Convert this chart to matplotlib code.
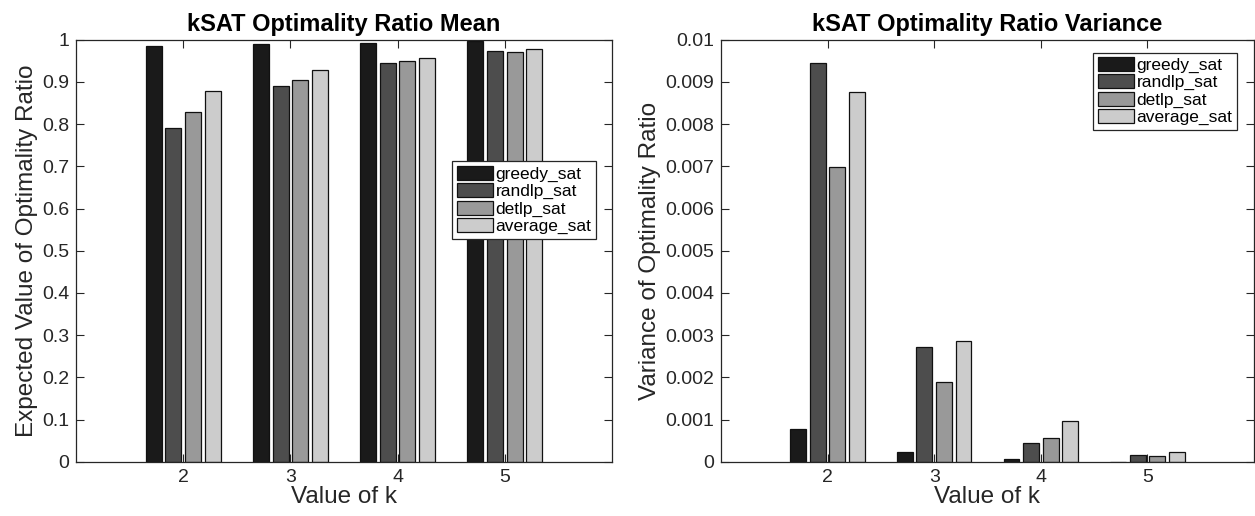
import matplotlib
matplotlib.use("Agg")
import matplotlib.pyplot as plt
import numpy as np

plt.rcParams['font.family'] = ['Liberation Sans', 'DejaVu Sans']

k_values = [2, 3, 4, 5]
series_names = ["greedy_sat", "randlp_sat", "detlp_sat", "average_sat"]
colors = ["#1a1a1a", "#4d4d4d", "#999999", "#cccccc"]

mean_greedy = [0.985, 0.989, 0.992, 0.997]
mean_randlp = [0.790, 0.890, 0.944, 0.972]
mean_detlp = [0.829, 0.904, 0.948, 0.970]
mean_average = [0.879, 0.929, 0.956, 0.977]

var_greedy = [0.00077, 0.00023, 0.00007, 0.00001]
var_randlp = [0.00945, 0.00271, 0.00046, 0.00016]
var_detlp = [0.00699, 0.00190, 0.00056, 0.00014]
var_average = [0.00875, 0.00286, 0.00098, 0.00024]

mean_yticks = [0, 0.1, 0.2, 0.3, 0.4, 0.5, 0.6, 0.7, 0.8, 0.9, 1]
mean_ylabels = ["0", "0.1", "0.2", "0.3", "0.4", "0.5", "0.6", "0.7", "0.8", "0.9", "1"]
var_yticks = [0, 0.001, 0.002, 0.003, 0.004, 0.005, 0.006, 0.007, 0.008, 0.009, 0.01]
var_ylabels = ["0", "0.001", "0.002", "0.003", "0.004", "0.005", "0.006", "0.007", "0.008", "0.009", "0.01"]

offsets = [-0.275, -0.092, 0.092, 0.275]
bar_w = 0.149
txt = "#262626"

fig = plt.figure(figsize=(12.55, 5.16), dpi=100)
ax1 = fig.add_axes([0.0606, 0.1047, 0.4270, 0.8187])
ax2 = fig.add_axes([0.5745, 0.1047, 0.4247, 0.8187])


def draw(ax, data, yticks, ylabels, ylim, title, ylabel):
    x = np.array(k_values, dtype=float)
    for vals, off, c, name in zip(data, offsets, colors, series_names):
        ax.bar(x + off, vals, width=bar_w, color=c, edgecolor="#111111",
               linewidth=0.9, label=name, zorder=2)
    ax.set_xlim(1, 6)
    ax.set_ylim(*ylim)
    ax.set_xticks(k_values)
    ax.set_xticklabels([str(k) for k in k_values], fontsize=14, color=txt)
    ax.set_yticks(yticks)
    ax.set_yticklabels(ylabels, fontsize=14, color=txt)
    ax.tick_params(direction="in", length=6, width=0.8, top=True, right=True,
                   colors=txt, pad=5)
    for s in ax.spines.values():
        s.set_color(txt)
        s.set_linewidth(0.9)
    ax.set_title(title, fontsize=17, fontweight="bold", pad=6)
    ax.set_xlabel("Value of k", fontsize=17.5, color=txt, labelpad=0)
    ax.set_ylabel(ylabel, fontsize=17.5, color=txt, labelpad=3)


draw(ax1, [mean_greedy, mean_randlp, mean_detlp, mean_average],
     mean_yticks, mean_ylabels, (0, 1), "kSAT Optimality Ratio Mean",
     "Expected Value of Optimality Ratio")
draw(ax2, [var_greedy, var_randlp, var_detlp, var_average],
     var_yticks, var_ylabels, (0, 0.01), "kSAT Optimality Ratio Variance",
     "Variance of Optimality Ratio")

leg_kw = dict(fontsize=12.5, frameon=True, fancybox=False, edgecolor="#262626",
              framealpha=1, labelspacing=0.08, handlelength=2.1, handleheight=0.85,
              handletextpad=0.15, borderpad=0.25, borderaxespad=0)
l1 = ax1.legend(loc="center right", bbox_to_anchor=(0.970, 0.62), **leg_kw)
l2 = ax2.legend(loc="upper right", bbox_to_anchor=(0.968, 0.969), **leg_kw)
for l in (l1, l2):
    l.get_frame().set_linewidth(0.9)

fig.savefig("out.png", dpi=100)
